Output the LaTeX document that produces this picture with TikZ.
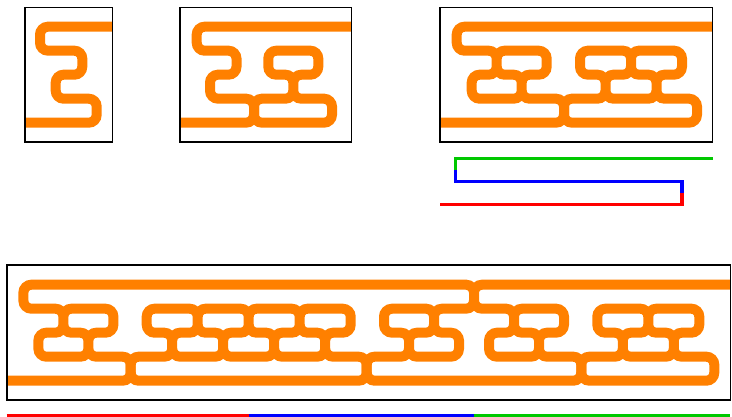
\documentclass[tikz,border=0pt]{standalone}
\definecolor{tubeor}{RGB}{255,128,0}
\definecolor{fgreen}{RGB}{0,200,0}
\tikzset{
  tube/.style={draw=tubeor, line width=10pt, rounded corners=8pt},
  frame/.style={draw=black, line width=1.6pt},
  fold/.style={line width=3.5pt, line join=miter}
}
\begin{document}
\begin{tikzpicture}[x=1pt,y=-1pt]
\useasboundingbox (0,0) rectangle (732,417);
\def\yA{26.7}\def\yB{50.7}\def\yC{74.7}\def\yD{98.7}\def\yE{122.7}
\def\YA{284.7}\def\YB{308.7}\def\YC{332.7}\def\YD{356.7}\def\YE{380.7}
% ---------- figure 1 ----------
\draw[tube] (112.5,\yA) -- (40,\yA) -- (40,\yB) -- (82.3,\yB) -- (82.3,\yC) -- (55.7,\yC) -- (55.7,\yD) -- (96.7,\yD) -- (96.7,\yE) -- (25,\yE);
% ---------- figure 2 ----------
\draw[tube] (351.5,\yA) -- (196.7,\yA) -- (196.7,\yB) -- (236.5,\yB) -- (236.5,\yC) -- (210,\yC) -- (210,\yD) -- (254,\yD) -- (254,\yE) -- (180,\yE);
\draw[tube] (293.3,\yB) -- (318.3,\yB) -- (318.3,\yC) -- (293.3,\yC) -- (293.3,\yD) -- (332,\yD) -- (332,\yE) -- (254,\yE) -- (254,\yD) -- (293.3,\yD) -- (293.3,\yC) -- (268.3,\yC) -- (268.3,\yB) -- cycle;
% ---------- figure 3 ----------
\draw[tube] (712.5,\yA) -- (456.7,\yA) -- (456.7,\yB) -- (496.7,\yB) -- (496.7,\yC) -- (471.7,\yC) -- (471.7,\yD) -- (521.7,\yD) -- (521.7,\yC) -- (496.7,\yC) -- (496.7,\yB) -- (546.7,\yB) -- (546.7,\yC) -- (521.7,\yC) -- (521.7,\yD) -- (564,\yD) -- (564,\yE) -- (440,\yE);
\draw[tube] (605.5,\yB) -- (631,\yB) -- (631,\yC) -- (605.5,\yC) -- (605.5,\yD) -- (656.5,\yD) -- (656.5,\yC) -- (631,\yC) -- (631,\yB) -- (682,\yB) -- (682,\yC) -- (656.5,\yC) -- (656.5,\yD) -- (697,\yD) -- (697,\yE) -- (564,\yE) -- (564,\yD) -- (605.5,\yD) -- (605.5,\yC) -- (580,\yC) -- (580,\yB) -- cycle;
% ---------- bottom figure ----------
\draw[tube] (730.3,\YA) -- (474,\YA) -- (474,\YB) -- (514,\YB) -- (514,\YC) -- (489,\YC) -- (489,\YD) -- (539,\YD) -- (539,\YC) -- (514,\YC) -- (514,\YB) -- (564,\YB) -- (564,\YC) -- (539,\YC) -- (539,\YD) -- (581.3,\YD) -- (581.3,\YE) -- (366.7,\YE) -- (366.7,\YD) -- (409,\YD) -- (409,\YC) -- (384,\YC) -- (384,\YB) -- (434,\YB) -- (434,\YC) -- (409,\YC) -- (409,\YD) -- (459,\YD) -- (459,\YC) -- (434,\YC) -- (434,\YB) -- (474,\YB) -- (474,\YA) -- (23.4,\YA) -- (23.4,\YB) -- (63.4,\YB) -- (63.4,\YC) -- (38.4,\YC) -- (38.4,\YD) -- (88.4,\YD) -- (88.4,\YC) -- (63.4,\YC) -- (63.4,\YB) -- (113.4,\YB) -- (113.4,\YC) -- (88.4,\YC) -- (88.4,\YD) -- (130.7,\YD) -- (130.7,\YE) -- (6.7,\YE);
\draw[tube] (200,\YE) -- (130.7,\YE) -- (130.7,\YD) -- (172.2,\YD) -- (172.2,\YC) -- (146.7,\YC) -- (146.7,\YB) -- (197.7,\YB) -- (197.7,\YC) -- (172.2,\YC) -- (172.2,\YD) -- (223.2,\YD) -- (223.2,\YC) -- (197.7,\YC) -- (197.7,\YB) -- (248.7,\YB) -- (248.7,\YC) -- (223.2,\YC) -- (223.2,\YD) -- (274.2,\YD) -- (274.2,\YC) -- (248.7,\YC) -- (248.7,\YB) -- (299.7,\YB) -- (299.7,\YC) -- (274.2,\YC) -- (274.2,\YD) -- (325.2,\YD) -- (325.2,\YC) -- (299.7,\YC) -- (299.7,\YB) -- (350.7,\YB) -- (350.7,\YC) -- (325.2,\YC) -- (325.2,\YD) -- (366.7,\YD) -- (366.7,\YE) -- cycle;
\draw[tube] (650,\YE) -- (581.3,\YE) -- (581.3,\YD) -- (622.8,\YD) -- (622.8,\YC) -- (597.3,\YC) -- (597.3,\YB) -- (648.3,\YB) -- (648.3,\YC) -- (622.8,\YC) -- (622.8,\YD) -- (673.8,\YD) -- (673.8,\YC) -- (648.3,\YC) -- (648.3,\YB) -- (699.3,\YB) -- (699.3,\YC) -- (673.8,\YC) -- (673.8,\YD) -- (714.3,\YD) -- (714.3,\YE) -- cycle;
% ---------- frames ----------
\draw[frame] (25,7.5) rectangle (112.5,142);
\draw[frame] (180,7.5) rectangle (351.5,142);
\draw[frame] (440,7.5) rectangle (712.5,142);
\draw[frame] (6.7,265.3) rectangle (730.3,399.7);
% ---------- fold diagram ----------
\coordinate (g0) at (712.5,158.3);
\coordinate (g1) at (455.3,158.3);
\coordinate (gb) at (455.3,170);
\coordinate (b1) at (455.3,181.5);
\coordinate (b2) at (682,181.5);
\coordinate (br) at (682,193);
\coordinate (r1) at (682,204.5);
\coordinate (r2) at (440,204.5);
\draw[fold, draw=fgreen] (g0) -- (g1) -- (gb);
\draw[fold, draw=blue] (gb) -- (b1) -- (b2) -- (br);
\draw[fold, draw=red] (br) -- (r1) -- (r2);
% ---------- strip underline ----------
\coordinate (u0) at (6.7,415.3);
\coordinate (u1) at (248.7,415.3);
\coordinate (u2) at (474,415.3);
\coordinate (u3) at (730.3,415.3);
\draw[fold, draw=red] (u0) -- (u1);
\draw[fold, draw=blue] (u1) -- (u2);
\draw[fold, draw=fgreen] (u2) -- (u3);
\end{tikzpicture}
\end{document}
